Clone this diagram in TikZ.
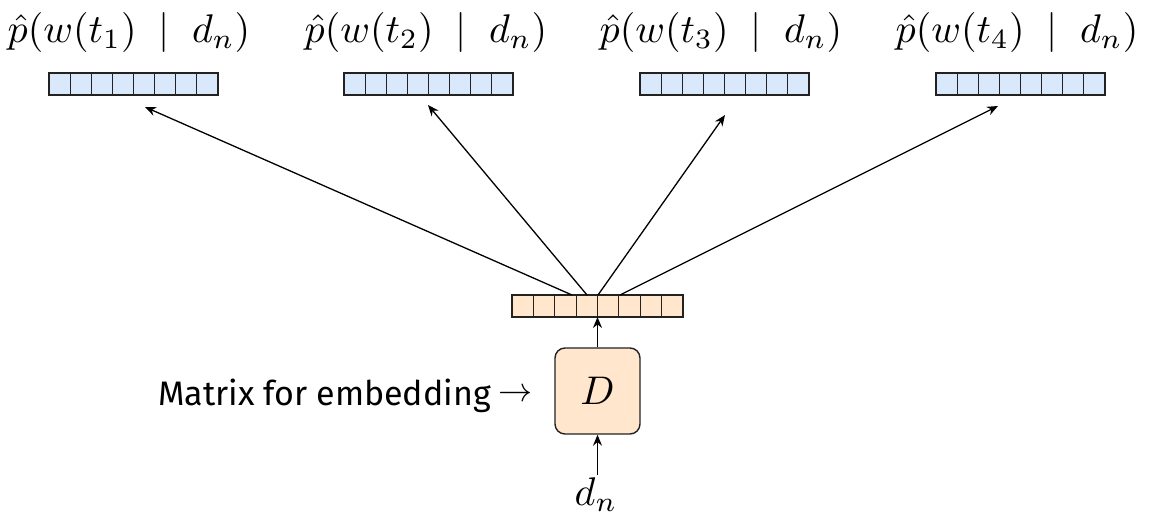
\documentclass[tikz,border=0pt]{standalone}
\usepackage{fontspec}
\newfontfamily\notefont{Fira Sans}
\usetikzlibrary{arrows.meta,calc}

\definecolor{vecblue}{HTML}{DAE8FC}
\definecolor{vecpeach}{HTML}{FFE6CC}
\definecolor{edge}{HTML}{222222}

% enlarged math, built from the 10pt fonts
\newcommand{\bigmath}[2]{\scalebox{#1}{\normalsize$#2$}}

\begin{document}
\begin{tikzpicture}[x=1pt,y=-1pt,
  vec/.style={draw=edge, line width=1.4pt, minimum width=169pt,
    minimum height=22pt, inner sep=0pt, outer sep=0pt},
  outvec/.style={vec, fill=vecblue},
  embvec/.style={vec, fill=vecpeach, minimum width=171pt},
  cellline/.style={draw=edge, line width=1.2pt},
  link/.style={draw=black, line width=1.3pt, -{Stealth[length=11pt,width=9pt]}},
  mathlbl/.style={anchor=base, inner sep=0pt},
  matbox/.style={draw=edge, line width=1.4pt, fill=vecpeach, rounded corners=10pt,
    minimum width=85pt, minimum height=86pt, inner sep=0pt},
  note/.style={font=\notefont\fontsize{34}{40}\selectfont, anchor=base east, inner sep=0pt}]

  \useasboundingbox (0,0) rectangle (1149,519);

  % output distributions
  \node[outvec] (w1) at (133.5,84) {};
  \node[outvec] (w2) at (428.5,84) {};
  \node[outvec] (w3) at (724.5,84) {};
  \node[outvec] (w4) at (1020.5,84) {};

  % document embedding vector
  \node[embvec] (e) at (597.5,306) {};

  % cell dividers
  \foreach \v in {w1,w2,w3,w4,e}{
    \foreach \k in {1,...,7}{
      \draw[cellline] ($(\v.north west)!\k/8!(\v.north east)$) --
                      ($(\v.south west)!\k/8!(\v.south east)$);
    }
  }

  % labels above the output vectors
  \node[mathlbl] (p1) at (129,43)  {\bigmath{4}{\hat{p}(w(t_1)\;\mid\;d_n)}};
  \node[mathlbl] (p2) at (426,43)  {\bigmath{4}{\hat{p}(w(t_2)\;\mid\;d_n)}};
  \node[mathlbl] (p3) at (721,43)  {\bigmath{4}{\hat{p}(w(t_3)\;\mid\;d_n)}};
  \node[mathlbl] (p4) at (1017,43) {\bigmath{4}{\hat{p}(w(t_4)\;\mid\;d_n)}};

  % embedding matrix and input
  \node[matbox] (D) at (597.5,391) {\bigmath{4}{D}};
  \node[mathlbl, inner sep=2pt] (dn) at (596,505) {\bigmath{4}{d_n}};
  \node[note] (lbl) at (533,405) {Matrix for embedding\hspace{8pt}\raisebox{4pt}{\bigmath{3.4}{\rightarrow}}};

  % arrow targets and sources
  \coordinate (t1) at (145,107);
  \coordinate (t2) at (428,105);
  \coordinate (t3) at (725,115);
  \coordinate (t4) at (998,106);
  \coordinate (s1) at ($(e.north)+(-25.5,0)$);
  \coordinate (s2) at ($(e.north)+(-10.5,0)$);
  \coordinate (s3) at ($(e.north)+(0.5,0)$);
  \coordinate (s4) at ($(e.north)+(22.5,0)$);

  \draw[link] (s1) -- (t1);
  \draw[link] (s2) -- (t2);
  \draw[link] (s3) -- (t3);
  \draw[link] (s4) -- (t4);

  \draw[link] (D.north) -- (e.south);
  \draw[link] (dn.north -| D.south) -- (D.south);
\end{tikzpicture}
\end{document}
